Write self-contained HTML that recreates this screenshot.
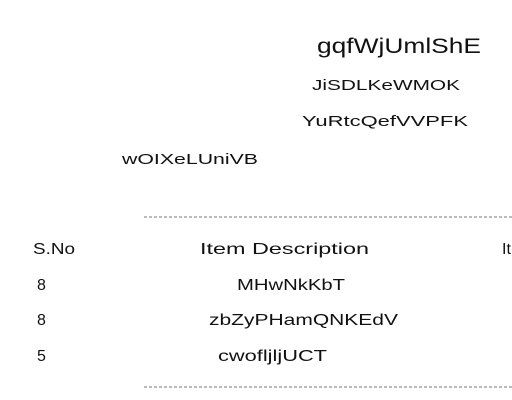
<!DOCTYPE html>
<html><head><style>body{margin:0;background:#fff}svg{display:block}</style></head>
<body>
<svg width="512" height="400" xmlns="http://www.w3.org/2000/svg" font-family="Liberation Sans, sans-serif" fill="#111">
<text x="317" y="53" font-size="21" textLength="164" lengthAdjust="spacingAndGlyphs">gqfWjUmlShE</text>
<text x="312" y="90" font-size="15" textLength="148" lengthAdjust="spacingAndGlyphs">JiSDLKeWMOK</text>
<text x="302" y="126" font-size="15" textLength="166" lengthAdjust="spacingAndGlyphs">YuRtcQefVVPFK</text>
<text x="122" y="164" font-size="15" textLength="136" lengthAdjust="spacingAndGlyphs">wOIXeLUniVB</text>
<line x1="144" y1="217" x2="512" y2="217" stroke="#777" stroke-width="1" stroke-dasharray="3,2"/>
<text x="33" y="254" font-size="16" textLength="42" lengthAdjust="spacingAndGlyphs">S.No</text>
<text x="200" y="254" font-size="16" textLength="169" lengthAdjust="spacingAndGlyphs">Item Description</text>
<text x="502" y="254" font-size="16">It</text>
<text x="37" y="290" font-size="16">8</text>
<text x="237" y="290" font-size="16" textLength="108" lengthAdjust="spacingAndGlyphs">MHwNkKbT</text>
<text x="37" y="325" font-size="16">8</text>
<text x="209" y="325" font-size="16" textLength="189" lengthAdjust="spacingAndGlyphs">zbZyPHamQNKEdV</text>
<text x="37" y="361" font-size="16">5</text>
<text x="218" y="361" font-size="16" textLength="109" lengthAdjust="spacingAndGlyphs">cwofljljUCT</text>
<line x1="144" y1="387" x2="512" y2="387" stroke="#777" stroke-width="1" stroke-dasharray="3,2"/>
</svg>
</body></html>
